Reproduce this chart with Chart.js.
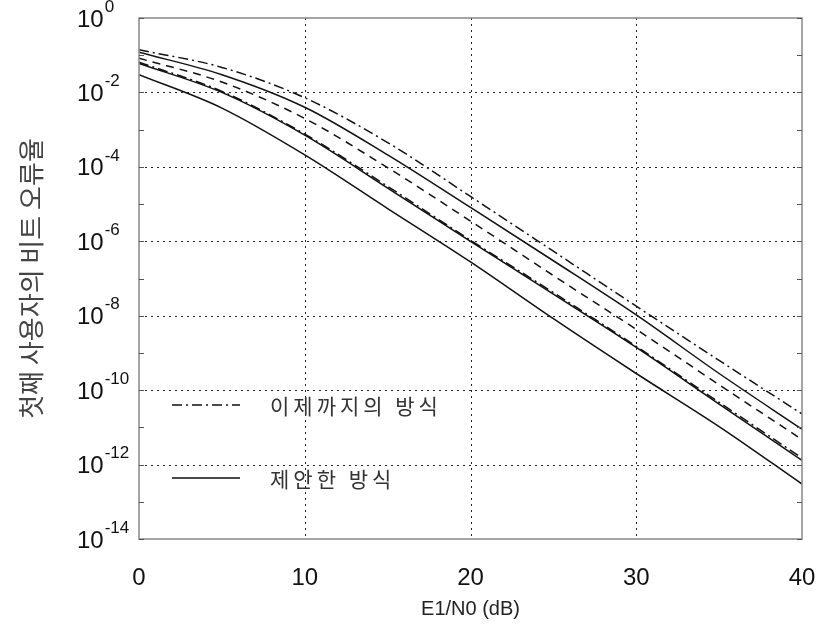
<!DOCTYPE html>
<html><head><meta charset="utf-8">
<script src="https://cdn.jsdelivr.net/npm/chart.js@4/dist/chart.umd.min.js"></script>
<style>html,body{margin:0;padding:0;background:#fff}</style>
</head><body>
<canvas id="c" width="818" height="629"></canvas>
<script>
// E1/N0 (dB)
const snr = [0, 5, 10, 15, 20, 25, 30, 35, 40];
// 이제까지의 방식 (existing scheme) curves
const existingA = [1.4e-1, 4.7e-2, 7.2e-3, 4.5e-4, 1.6e-5, 5.4e-7, 1.8e-8, 6.3e-10, 2.3e-11];
const existingB = [8.3e-2, 1.9e-2, 2.0e-3, 9.5e-5, 3.5e-6, 1.2e-7, 4.3e-9, 1.4e-10, 4.7e-12];
const existingC = [6.5e-2, 1.07e-2, 7.6e-4, 3.0e-5, 1.07e-6, 4.2e-8, 1.5e-9, 4.7e-11, 1.5e-12];
// 제안한 방식 (proposed scheme) curves
const proposedA = [1.2e-1, 3.0e-2, 4.0e-3, 2.1e-4, 8.1e-6, 3.0e-7, 1.05e-8, 2.8e-10, 8.9e-12];
const proposedB = [6.0e-2, 1.0e-2, 7.1e-4, 2.7e-5, 1.0e-6, 3.8e-8, 1.4e-9, 4.2e-11, 1.3e-12];
const proposedC = [3.0e-2, 3.8e-3, 2.1e-4, 7.6e-6, 2.8e-7, 8.3e-9, 2.8e-10, 1.05e-11, 3.0e-13];
// axis ticks
const xTicks = [0, 10, 20, 30, 40];
const xGrid = [10, 20, 30];
const yDecadeExps = [0, -1, -2, -3, -4, -5, -6, -7, -8, -9, -10, -11, -12, -13, -14];
const yLabelExps = [0, -2, -4, -6, -8, -10, -12, -14];
const yGridExps = [-2, -4, -6, -8, -10, -12];
const legendLabels = ['이제까지의 방식', '제안한 방식'];
const xTitle = 'E1/N0 (dB)';
const yTitle = '첫째 사용자의 비트 오류율';

const DASHDOT = [10, 4, 2, 4];
const DASH = [8, 6];
const INK = '#111';
const FONT = '"Liberation Sans", Arial, sans-serif';
const KFONT = '"Noto Sans CJK KR", sans-serif';

function ds(data, dash) {
  return {data: snr.map((x, i) => ({x, y: data[i]})), borderColor: INK, borderWidth: 1.5,
    borderDash: dash, pointRadius: 0, fill: false, cubicInterpolationMode: 'monotone'};
}

const decorations = {
  id: 'decorations',
  beforeDatasetsDraw(chart) {
    const {ctx, chartArea: a, scales: {x, y}} = chart;
    ctx.save();
    ctx.strokeStyle = '#222'; ctx.lineWidth = 1; ctx.setLineDash([2, 4]);
    yGridExps.forEach(e => {
      const py = Math.round(y.getPixelForValue(Math.pow(10, e))) + 0.5;
      ctx.beginPath(); ctx.moveTo(a.left, py); ctx.lineTo(a.right, py); ctx.stroke();
    });
    xGrid.forEach(v => {
      const px = Math.round(x.getPixelForValue(v)) + 0.5;
      ctx.beginPath(); ctx.moveTo(px, a.top); ctx.lineTo(px, a.bottom); ctx.stroke();
    });
    ctx.restore();
  },
  afterDatasetsDraw(chart) {
    const {ctx, chartArea: a, scales: {x, y}} = chart;
    ctx.save();
    ctx.setLineDash([]);
    ctx.strokeStyle = '#888'; ctx.lineWidth = 1.5;
    ctx.strokeRect(a.left, a.top, a.right - a.left, a.bottom - a.top);
    ctx.strokeStyle = '#555'; ctx.lineWidth = 1;
    yDecadeExps.forEach(e => {
      const py = Math.round(y.getPixelForValue(Math.pow(10, e))) + 0.5;
      ctx.beginPath(); ctx.moveTo(a.left, py); ctx.lineTo(a.left + 5, py); ctx.stroke();
      ctx.beginPath(); ctx.moveTo(a.right, py); ctx.lineTo(a.right - 5, py); ctx.stroke();
    });
    ctx.fillStyle = '#111'; ctx.textAlign = 'left'; ctx.textBaseline = 'middle';
    yLabelExps.forEach(e => {
      const py = y.getPixelForValue(Math.pow(10, e));
      ctx.font = '24px ' + FONT;
      ctx.fillText('10', 77, py + 2);
      const w = ctx.measureText('10').width;
      ctx.font = '17px ' + FONT;
      ctx.fillText(e === 0 ? '0' : '-' + Math.abs(e), 77 + w + 1, py - 11);
    });
    const lx0 = 172, lx1 = 240, tx = 270;
    const rows = [{dash: DASHDOT, py: 405}, {dash: [], py: 478}];
    rows.forEach((r, i) => {
      ctx.strokeStyle = INK; ctx.lineWidth = 1.5; ctx.setLineDash(r.dash);
      ctx.beginPath(); ctx.moveTo(lx0, r.py); ctx.lineTo(lx1, r.py); ctx.stroke();
      ctx.setLineDash([]);
      ctx.fillStyle = '#333'; ctx.font = '21px ' + KFONT; ctx.textBaseline = 'middle';
      ctx.letterSpacing = '4px';
      ctx.fillText(legendLabels[i], tx, r.py + 1);
      ctx.letterSpacing = '0px';
    });
    ctx.restore();
  }
};

new Chart(document.getElementById('c'), {
  type: 'line',
  data: {datasets: [
    ds(existingA, DASHDOT), ds(proposedA, []), ds(existingB, DASH),
    ds(proposedB, []), ds(existingC, DASHDOT), ds(proposedC, [])
  ]},
  options: {
    responsive: false, animation: false, devicePixelRatio: 1,
    layout: {padding: {top: 18, right: 16, left: 0, bottom: 0}},
    plugins: {legend: {display: false}, tooltip: {enabled: false}},
    scales: {
      x: {type: 'linear', min: 0, max: 40,
        afterBuildTicks: s => { s.ticks = xTicks.map(v => ({value: v})); },
        ticks: {font: {family: FONT, size: 24}, color: '#111', padding: 25, maxRotation: 0},
        grid: {display: false, drawTicks: false}, border: {display: false},
        title: {display: true, text: xTitle, font: {family: FONT, size: 20}, color: '#222', padding: {top: 0, bottom: 8}},
        afterFit: s => { s.height = 90; s.paddingLeft = 0; s.paddingRight = 0; }
      },
      y: {type: 'logarithmic', min: 1e-14, max: 1,
        afterBuildTicks: s => { s.ticks = yDecadeExps.map(e => ({value: Math.pow(10, e)})); },
        ticks: {display: false}, grid: {display: false, drawTicks: false}, border: {display: false},
        title: {display: true, text: yTitle, font: {family: KFONT, size: 26}, color: '#444', padding: {top: 16, bottom: 0}},
        afterFit: s => { s.width = 139; s.paddingTop = 0; s.paddingBottom = 0; }
      }
    }
  },
  plugins: [decorations]
});
</script>
</body></html>
